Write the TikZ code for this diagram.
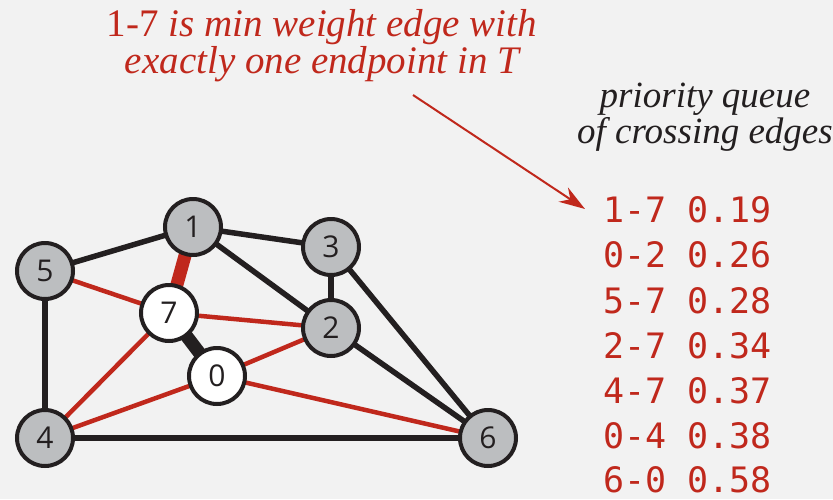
\documentclass[tikz,border=0pt]{standalone}
\usepackage{fontspec}
\setmainfont{Liberation Serif}
\setsansfont{Open Sans}
\setmonofont{DejaVu Sans Mono}
\usetikzlibrary{arrows.meta}
\definecolor{bg}{RGB}{242,242,242}
\definecolor{myred}{RGB}{192,40,28}
\definecolor{nodegrey}{RGB}{188,190,192}
\definecolor{ink}{RGB}{35,31,32}
\tikzset{
  vtx/.style={circle,draw=ink,line width=4pt,minimum size=56pt,inner sep=0pt,
    font=\sffamily\fontsize{30}{30}\selectfont,text=ink},
  gv/.style={vtx,fill=nodegrey},
  wv/.style={vtx,fill=white},
  bedge/.style={draw=ink,line width=5.5pt},
  redge/.style={draw=myred,line width=4.5pt},
  tbedge/.style={draw=ink,line width=13pt},
  tredge/.style={draw=myred,line width=13pt},
  pq/.style={anchor=base west,inner sep=0pt,text=myred,font=\ttfamily\fontsize{35}{35}\selectfont},
  lab/.style={anchor=base,inner sep=0pt,align=center}
}
\begin{document}
\begin{tikzpicture}[x=1pt,y=-1pt]
\fill[bg] (0,0) rectangle (833,499);
\useasboundingbox (0,0) rectangle (833,499);
% vertex positions
\coordinate (c1) at (193,227);
\coordinate (c3) at (331,247);
\coordinate (c5) at (45,271);
\coordinate (c7) at (169,313);
\coordinate (c2) at (331,328);
\coordinate (c0) at (217,376);
\coordinate (c4) at (45,438);
\coordinate (c6) at (488,438);
% edges
\path[bedge] (c1) -- (c5);
\path[bedge] (c1) -- (c3);
\path[bedge] (c1) -- (c2);
\path[bedge] (c3) -- (c2);
\path[bedge] (c3) -- (c6);
\path[bedge] (c2) -- (c6);
\path[bedge] (c5) -- (c4);
\path[bedge] (c4) -- (c6);
\path[tbedge] (c7) -- (c0);
\path[redge] (c5) -- (c7);
\path[redge] (c7) -- (c2);
\path[redge] (c7) -- (c4);
\path[redge] (c0) -- (c2);
\path[redge] (c0) -- (c4);
\path[redge] (c0) -- (c6);
\path[tredge] (c1) -- (c7);
% vertices
\node[gv] (n1) at (c1) {1};
\node[gv] (n3) at (c3) {3};
\node[gv] (n5) at (c5) {5};
\node[wv] (n7) at (c7) {7};
\node[gv] (n2) at (c2) {2};
\node[wv] (n0) at (c0) {0};
\node[gv] (n4) at (c4) {4};
\node[gv] (n6) at (c6) {6};
% labels
\node[lab,text=myred,font=\itshape\fontsize{39}{33}\selectfont] (t1) at (322,73)
  {\upshape 1-7\itshape{} is min weight edge with\\exactly one endpoint in \textit{T}};
\node[lab,text=ink,font=\itshape\fontsize{37}{31}\selectfont] (q1) at (705,143)
  {priority queue\\of crossing edges};
\coordinate (as) at (413,95);
\coordinate (ae) at (585,209);
\draw[myred,line width=2pt,-{Stealth[length=26pt,width=17pt]}] (as) -- (ae);
\node[pq] (p1) at (603,222) {1-7 0.19};
\node[pq] (p2) at (603,267) {0-2 0.26};
\node[pq] (p3) at (603,313) {5-7 0.28};
\node[pq] (p4) at (603,358) {2-7 0.34};
\node[pq] (p5) at (603,403) {4-7 0.37};
\node[pq] (p6) at (603,448) {0-4 0.38};
\node[pq] (p7) at (603,492) {6-0 0.58};
\end{tikzpicture}
\end{document}
